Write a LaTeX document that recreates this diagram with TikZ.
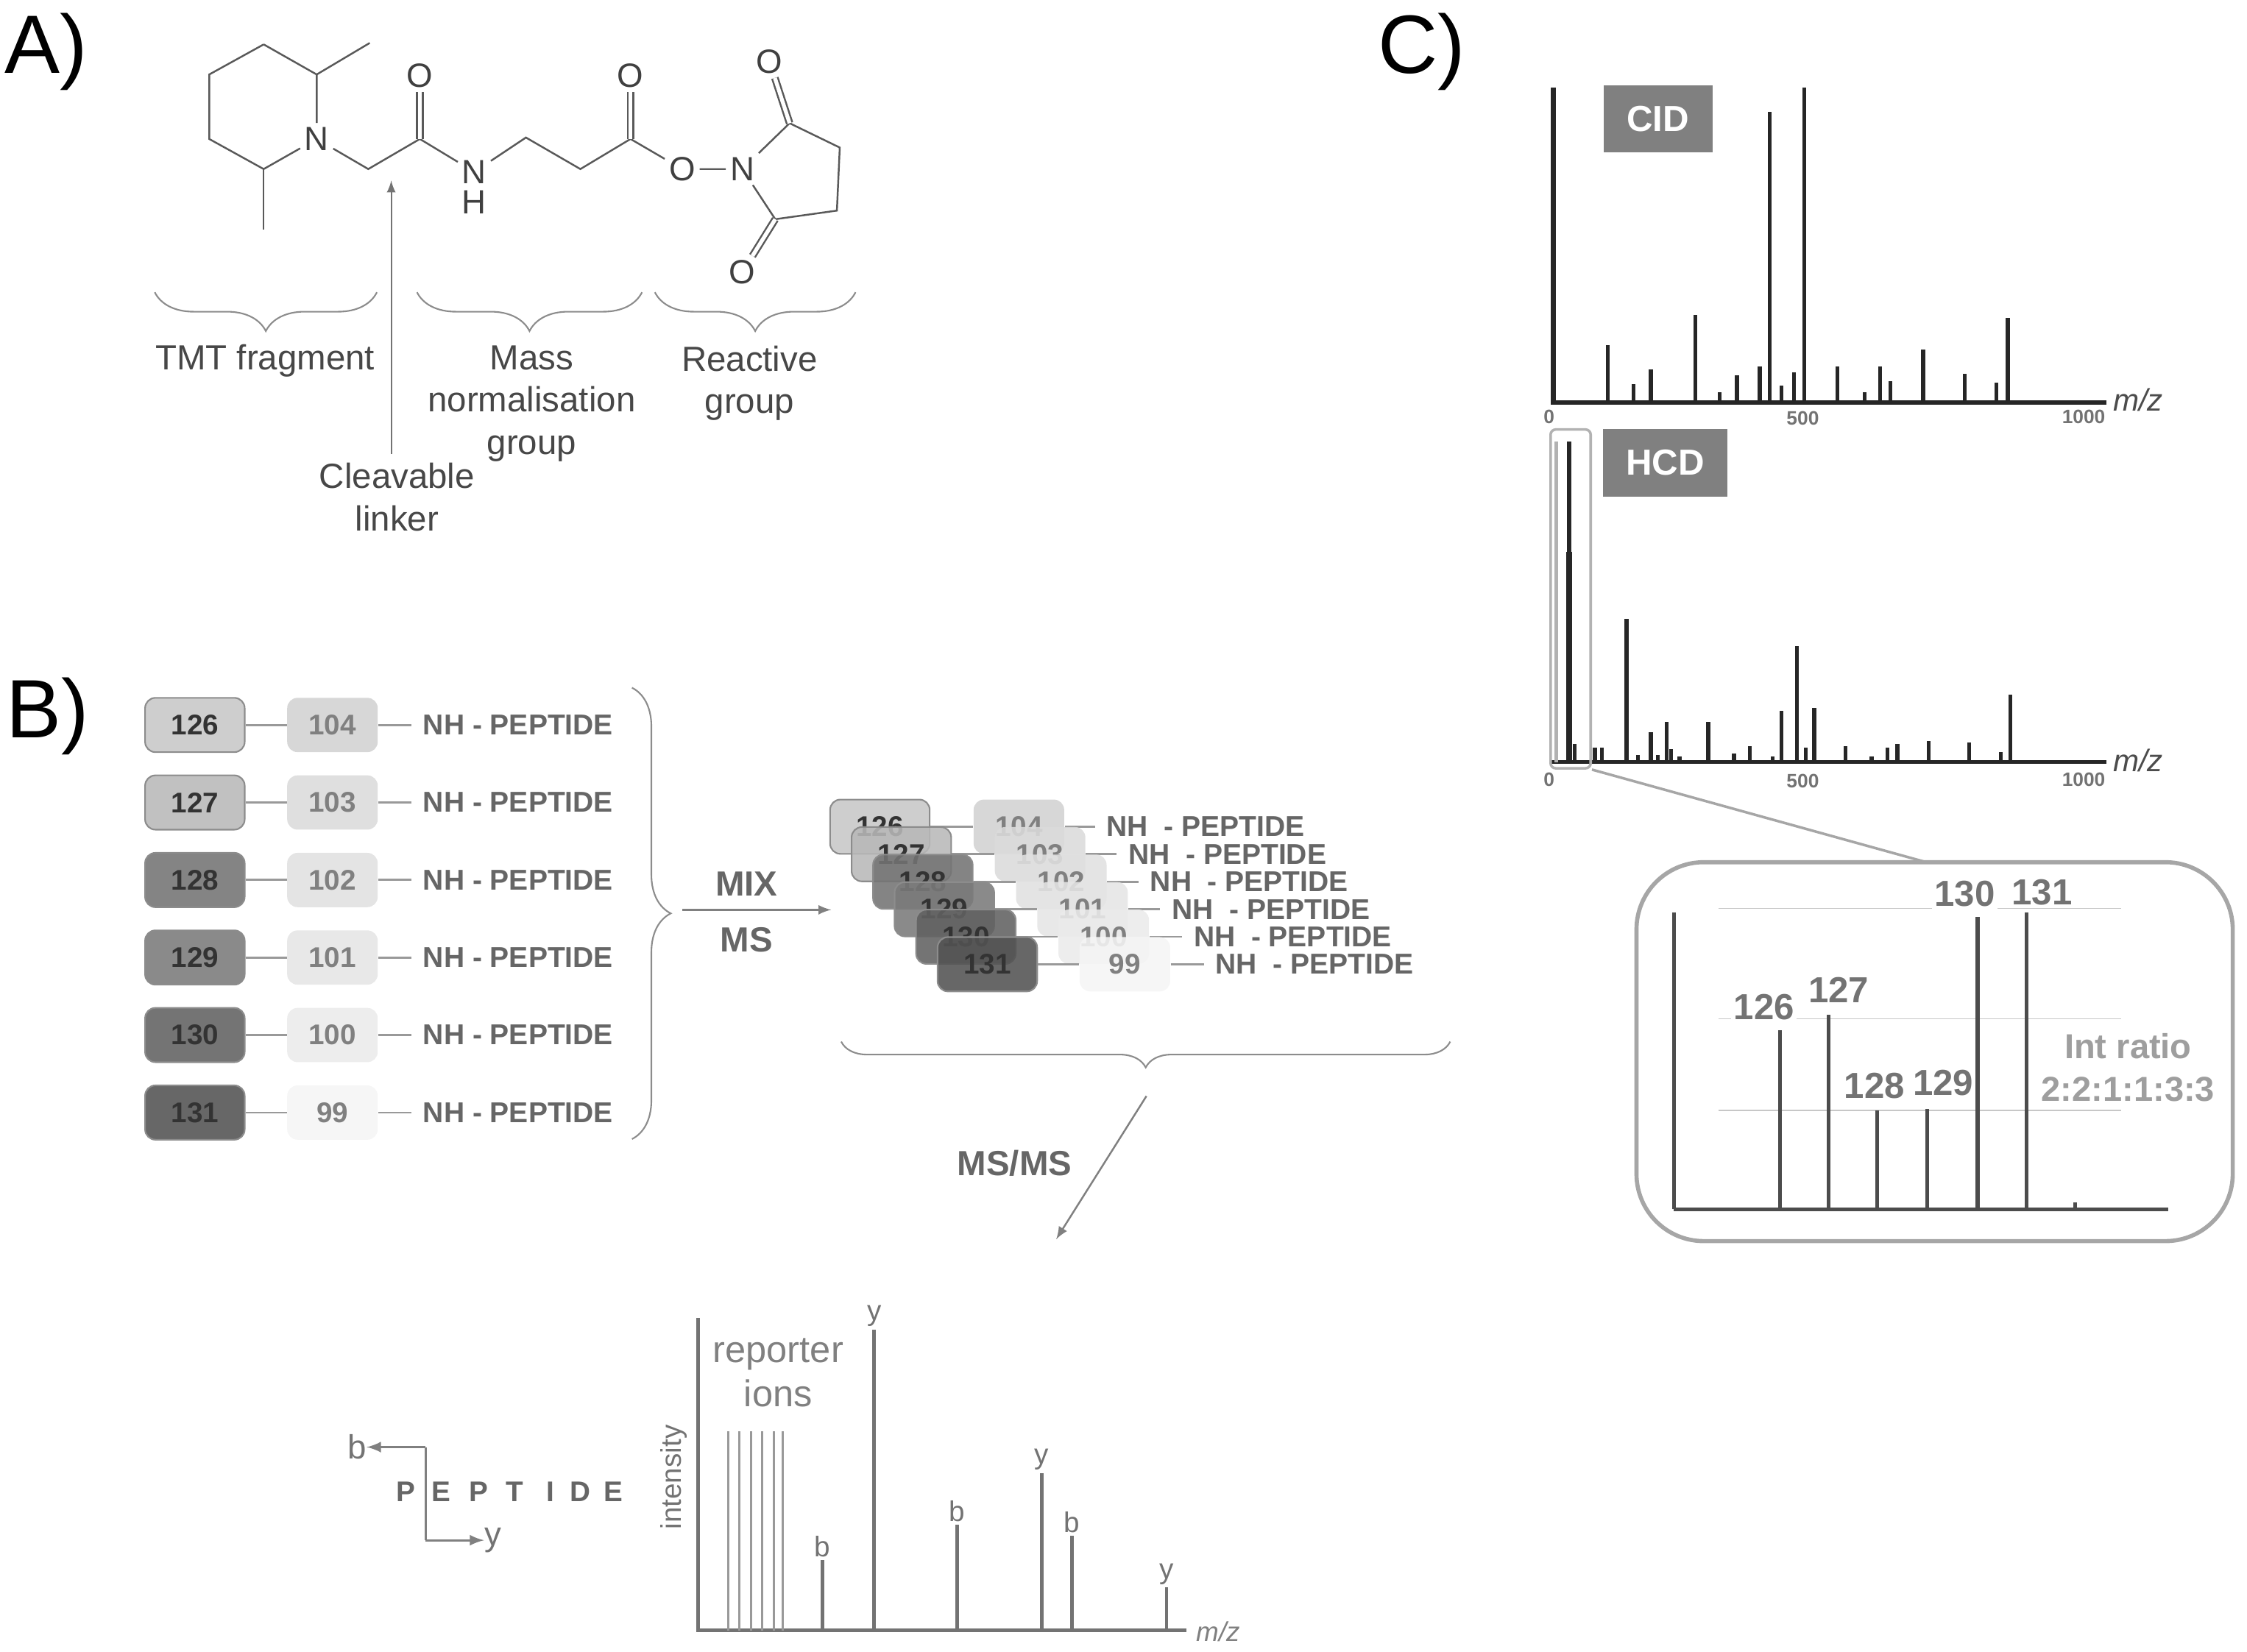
\documentclass[tikz,border=0pt]{standalone}
\usepackage{fontspec}
\setmainfont{Liberation Sans}
\usetikzlibrary{decorations.pathreplacing}

\begin{document}
\begin{tikzpicture}[x=0.01947cm,y=-0.01947cm,
        panel/.style={font=\fontsize{32}{35}\selectfont, text=black},
        atom/.style={font=\fontsize{13}{15}\selectfont, text=black!75, inner sep=1.5pt},
        bond/.style={draw=black!65, line width=0.7pt},
        dbond/.style={bond, double, double distance=1.5pt},
        curly/.style={draw=black!45, line width=0.6pt, decorate, decoration={brace, amplitude=#1}},
        curlydown/.style={draw=black!45, line width=0.6pt, decorate, decoration={brace, mirror, amplitude=#1}},
        lbl/.style={font=\fontsize{13.5}{16.3}\selectfont, text=black!72, align=center, inner sep=0pt},
        tagbox/.style={draw=black!45, line width=0.6pt, rounded corners=4pt, minimum width=38.5pt, minimum height=21pt, inner sep=0pt, font=\bfseries\fontsize{11}{13}\selectfont, text=black!80, fill opacity=0.88, text opacity=1},
        balbox/.style={rounded corners=4pt, minimum width=35pt, minimum height=21pt, inner sep=0pt, font=\bfseries\fontsize{11}{13}\selectfont, text=black!50, fill opacity=0.88, text opacity=1},
        pep/.style={font=\bfseries\fontsize{11.1}{13}\selectfont, text=black!60, inner sep=4.4pt},
        link/.style={draw=black!40, line width=0.8pt},
        word/.style={font=\bfseries\fontsize{13.5}{16}\selectfont, text=black!60, inner sep=0pt},
        ion/.style={font=\fontsize{11}{13}\selectfont, text=black!55, inner sep=0pt},
        peak/.style={draw=black!55, line width=1.3pt},
        reporter/.style={draw=black!40, line width=0.9pt},
        spec/.style={draw=black!85, line width=1.5pt},
        tick/.style={font=\bfseries\fontsize{7.5}{9}\selectfont, text=black!55, inner sep=0pt},
        mz/.style={font=\itshape\fontsize{12}{14}\selectfont, text=black!70, inner sep=0pt},
        mode/.style={fill=black!50, font=\bfseries\fontsize{14}{16}\selectfont, text=white, inner sep=0pt},
        reptag/.style={font=\bfseries\fontsize{14}{16}\selectfont, text=black!55, inner sep=1pt, fill=white},
        guide/.style={draw=black!22, line width=0.4pt}]
    \path[use as bounding box] (0,0) rectangle (1568,1153);

    % Panel labels
    \node[panel] (panelA) at (32,36) {A)};
    \node[panel] (panelB) at (33,500) {B)};
    \node[panel] (panelC) at (992,36) {C)};

    % Tag molecule
    \coordinate (r1) at (184,31);
    \coordinate (r2) at (221,52);
    \coordinate (me1) at (258,30);
    \node[atom] (N1) at (221,97) {N};
    \coordinate (r3) at (184,118);
    \coordinate (me2) at (184,160);
    \coordinate (r4) at (146,97);
    \coordinate (r5) at (146,52);
    \coordinate (c1) at (257,118);
    \coordinate (c2) at (293,97);
    \node[atom] (O1) at (293,53) {O};
    \node[atom] (N2) at (331,120) {N};
    \node[atom] (H2) at (331,141) {H};
    \coordinate (c3) at (367,96);
    \coordinate (c4) at (405,118);
    \coordinate (c5) at (440,97);
    \node[atom] (O2) at (440,53) {O};
    \node[atom] (O3) at (476,118) {O};
    \node[atom] (N3) at (518,118) {N};
    \coordinate (c6) at (551,86);
    \coordinate (c7) at (586,103);
    \coordinate (c8) at (584,147);
    \coordinate (c9) at (541,153);
    \node[atom] (O4) at (537,43) {O};
    \node[atom] (O5) at (518,190) {O};

    \draw[bond] (r1) -- (r2) -- (N1);
    \draw[bond] (r2) -- (me1);
    \draw[bond] (N1) -- (r3) -- (r4) -- (r5) -- (r1);
    \draw[bond] (r3) -- (me2);
    \draw[bond] (N1) -- (c1) -- (c2) -- (N2) -- (c3) -- (c4) -- (c5) -- (O3) -- (N3);
    \draw[dbond] (c2) -- (O1);
    \draw[dbond] (c5) -- (O2);
    \draw[bond] (N3) -- (c6) -- (c7) -- (c8) -- (c9) -- (N3);
    \draw[dbond] (c6) -- (O4);
    \draw[dbond] (c9) -- (O5);

    % Tag parts
    \coordinate (b1a) at (108,204);
    \coordinate (b1b) at (263,204);
    \coordinate (b2a) at (291,204);
    \coordinate (b2b) at (448,204);
    \coordinate (b3a) at (457,204);
    \coordinate (b3b) at (597,204);
    \draw[curlydown=15pt] (b1a) -- (b1b);
    \draw[curlydown=15pt] (b2a) -- (b2b);
    \draw[curlydown=15pt] (b3a) -- (b3b);
    \node[lbl] (tmt) at (185,252) {TMT fragment};
    \node[lbl, anchor=north] (mass) at (371,241) {Mass\\normalisation\\group};
    \node[lbl, anchor=north] (reactive) at (523,241) {Reactive\\group};
    \node[lbl, anchor=north] (cleave) at (277,323) {Cleavable\\linker};
    \coordinate (cleavetip) at (273,126);
    \coordinate (cleavefoot) at (273,317);
    \draw[-latex, draw=black!55, line width=0.6pt] (cleavefoot) -- (cleavetip);

    % Six labelled peptides
    \foreach \i/\a/\b/\fa/\fb in {0/126/104/22/18,1/127/103/28/14,2/128/102/55/12,3/129/101/52/10,4/130/100/62/8,5/131/99/68/4} {
        \node[tagbox, fill=black!\fa] (L\i) at (136,{506+54.1*\i}) {\a};
        \node[balbox, fill=black!\fb] (R\i) at (232,{506+54.1*\i}) {\b};
        \node[pep, anchor=west] (P\i) at (287,{506+54.1*\i}) {NH - PEPTIDE};
        \draw[link] (L\i) -- (R\i);
        \draw[link] (R\i) -- (P\i);
    }
    \coordinate (mixa) at (441,480);
    \coordinate (mixb) at (441,795);
    \draw[curly=15pt] (mixa) -- (mixb);
    \coordinate (mixfrom) at (476,635);
    \coordinate (mixto) at (580,635);
    \draw[-latex, draw=black!50, line width=0.7pt] (mixfrom) -- (mixto);
    \node[word] (mix) at (521,617) {MIX};
    \node[word] (ms) at (521,656) {MS};

    % Mixed stack
    \foreach \i/\a/\b/\fa/\fb in {0/126/104/22/18,1/127/103/28/14,2/128/102/55/12,3/129/101/52/10,4/130/100/62/8,5/131/99/68/4} {
        \node[balbox, fill=black!\fb] (SR\i) at ({711+14.8*\i},{577+19.2*\i}) {\b};
        \node[pep, anchor=west] (SP\i) at ({764+15.2*\i},{577+19.2*\i}) {NH\ \ - PEPTIDE};
        \draw[link] (SR\i) -- (SP\i);
    }
    \foreach \i/\a/\b/\fa/\fb in {0/126/104/22/18,1/127/103/28/14,2/128/102/55/12,3/129/101/52/10,4/130/100/62/8,5/131/99/68/4} {
        \node[tagbox, fill=black!\fa] (SL\i) at ({614+15*\i},{577+19.2*\i}) {\a};
        \draw[link] (SL\i) -- (SR\i);
    }
    \coordinate (stacka) at (587,727);
    \coordinate (stackb) at (1012,727);
    \draw[curlydown=10pt] (stacka) -- (stackb);
    \coordinate (msfrom) at (800,765);
    \coordinate (msto) at (737,865);
    \draw[-latex, draw=black!50, line width=0.7pt] (msfrom) -- (msto);
    \node[word] (msms) at (708,812) {MS/MS};

    % Peptide fragmentation
    \coordinate (cutb) at (297,1010);
    \coordinate (cuty) at (297,1075);
    \node[ion, font=\fontsize{13}{15}\selectfont] (lb) at (249,1010) {b};
    \node[ion, font=\fontsize{13}{15}\selectfont] (ly) at (344,1075) {y};
    \draw[-latex, draw=black!50, line width=0.9pt] (cutb) -- (lb);
    \draw[draw=black!50, line width=0.9pt] (cutb) -- (cuty);
    \draw[-latex, draw=black!50, line width=0.9pt] (cuty) -- (ly);
    \foreach \x/\s in {283/P,308/E,334/P,359/T,384/I,405/D,428/E} {
        \node[word, font=\bfseries\fontsize{11}{13}\selectfont] (let\s\x) at (\x,1041) {\s};
    }

    % MS/MS spectrum
    \coordinate (sp0) at (487,1138);
    \coordinate (sptop) at (487,920);
    \coordinate (spend) at (828,1138);
    \draw[peak] (sptop) -- (sp0) -- (spend);
    \foreach \x in {508,516,524,532,540,546} {
        \draw[reporter] (\x,1138) -- (\x,999);
    }
    \foreach \x/\t/\s in {574/1089/b,610/928/y,668/1064/b,727/1028/y,748/1072/b,814/1108/y} {
        \draw[peak] (\x,1138) -- (\x,\t);
        \node[ion, above=1pt] (ion\x) at (\x,\t) {\s};
    }
    \node[lbl, font=\fontsize{14.4}{17}\selectfont, text=black!50] (rep) at (543,958) {reporter\\ions};
    \node[ion, rotate=90] (inty) at (470,1031) {intensity};
    \node[mz, text=black!50, font=\itshape\fontsize{10.5}{12}\selectfont] (mzs) at (850,1139) {m/z};

    % CID spectrum
    \draw[spec] (1082,281) -- (1470,281);
    \draw[spec, line width=2pt] (1084,281) -- (1084,61);
    \foreach \x/\t in {1122/241,1140/268,1152/258,1183/220,1200/274,1212/262,1228/256,1235/78,1243/269,1252/260,1259/61,1282/256,1301/274,1312/256,1319/266,1342/244,1371/261,1393/267,1401/222} {
        \draw[spec] (\x,281) -- (\x,\t);
    }
    \node[mode, minimum width=42pt, minimum height=26pt] (cid) at (1157,83) {CID};
    \node[tick] (c0) at (1081,291) {0};
    \node[tick] (c500) at (1258,292) {500};
    \node[tick] (c1000) at (1454,291) {1000};
    \node[mz] (cmz) at (1492,279) {m/z};

    % HCD spectrum
    \draw[spec] (1082,532) -- (1470,532);
    \draw[spec, draw=black!30, line width=1.5pt] (1086,532) -- (1086,308);
    \draw[spec, line width=2.2pt] (1095,532) -- (1095,385);
    \draw[spec] (1095,385) -- (1095,308);
    \foreach \x/\t in {1099/519,1113/522,1118/522,1135/432,1143/527,1152/511,1157/527,1163/504,1166/523,1172/528,1192/504,1210/526,1221/521,1237/528,1243/496,1254/451,1260/522,1266/494,1288/521,1306/528,1317/522,1324/519,1346/517,1374/518,1396/525,1403/485} {
        \draw[spec] (\x,532) -- (\x,\t);
    }
    \node[mode, minimum width=48pt, minimum height=26pt] (hcd) at (1162,323) {HCD};
    \node[tick] (h0) at (1081,544) {0};
    \node[tick] (h500) at (1258,545) {500};
    \node[tick] (h1000) at (1454,544) {1000};
    \node[mz] (hmz) at (1492,531) {m/z};

    % Zoomed reporter region
    \node[draw=black!30, line width=1pt, rounded corners=2pt, minimum width=15.5pt, minimum height=131pt, inner sep=0pt] (zoomsel) at (1096,418) {};
    \node[draw=black!35, line width=1.6pt, rounded corners=26pt, minimum width=230.5pt, minimum height=146.5pt, inner sep=0pt] (zoombox) at (1350,734) {};
    \coordinate (zoomfoot) at (1345,602);
    \draw[draw=black!35, line width=1pt] (zoomsel.south east) -- (zoomfoot);
    \foreach \y in {634,711,775} {
        \draw[guide] (1199,\y) -- (1480,\y);
    }
    \foreach \x/\y/\s in {1231/703/126,1283/691/127,1308/758/128,1356/756/129,1371/624/130,1425/623/131} {
        \node[reptag] (tag\s) at (\x,\y) {\s};
    }
    \draw[spec, draw=black!70] (1168,844) -- (1513,844);
    \draw[spec, draw=black!70] (1168,844) -- (1168,637);
    \foreach \x/\t in {1242/719,1276/708,1310/775,1345/774,1380/640,1414/637,1448/839} {
        \draw[spec, draw=black!70] (\x,844) -- (\x,\t);
    }
    \node[lbl, font=\bfseries\fontsize{13.4}{16.5}\selectfont, text=black!38, fill=white, inner sep=1pt] (ratio) at (1485,745) {Int ratio\\2:2:1:1:3:3};
\end{tikzpicture}
\end{document}
